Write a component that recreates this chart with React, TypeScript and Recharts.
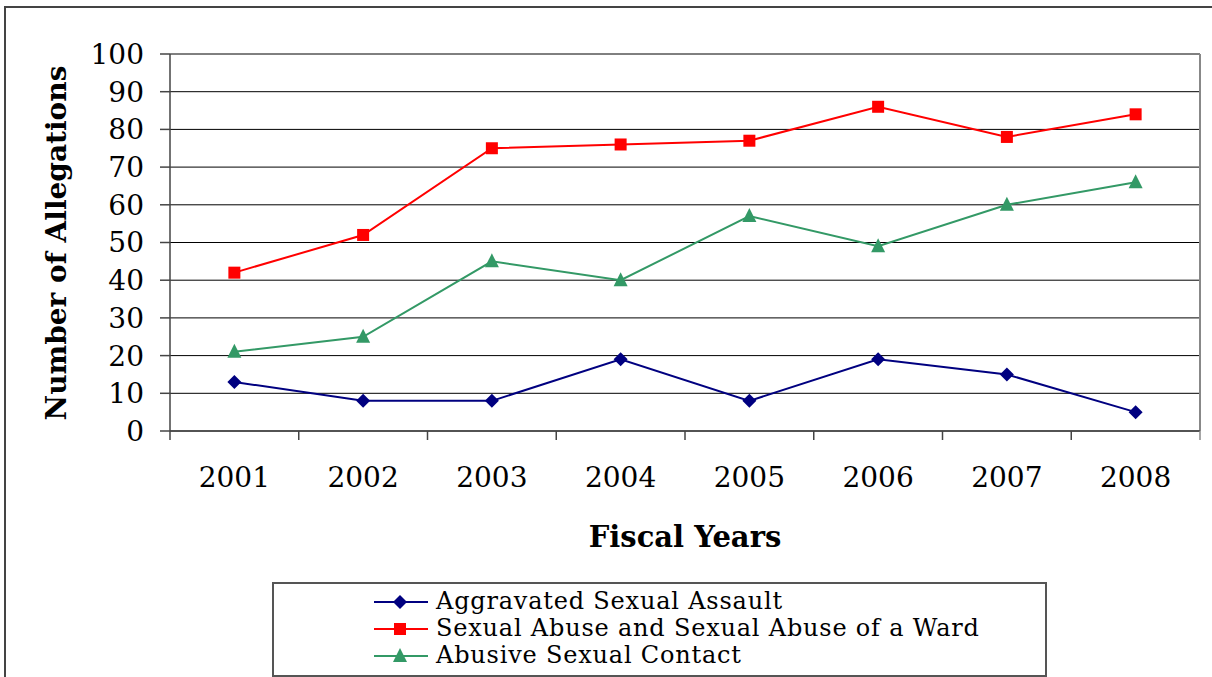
import React from "react";
import { LineChart, Line, XAxis, YAxis, CartesianGrid } from "recharts";

const years = ["2001", "2002", "2003", "2004", "2005", "2006", "2007", "2008"];
const aggravated = [13, 8, 8, 19, 8, 19, 15, 5];
const sexualAbuse = [42, 52, 75, 76, 77, 86, 78, 84];
const abusiveContact = [21, 25, 45, 40, 57, 49, 60, 66];
const yTicks = [0, 10, 20, 30, 40, 50, 60, 70, 80, 90, 100];

const seriesNames = [
  "Aggravated Sexual Assault",
  "Sexual Abuse and Sexual Abuse of a Ward",
  "Abusive Sexual Contact",
];
const seriesColors = ["#000080", "#FF0000", "#339966"];
const seriesKeys = ["aggravated", "sexualAbuse", "abusiveContact"];

const data = years.map((y, i) => ({
  year: y,
  aggravated: aggravated[i],
  sexualAbuse: sexualAbuse[i],
  abusiveContact: abusiveContact[i],
}));

const FONT = "'DejaVu Serif', serif";

function Marker({ kind, cx, cy, color }: { kind: number; cx: number; cy: number; color: string }) {
  if (kind === 0) {
    return <polygon points={`${cx},${cy - 7} ${cx + 7},${cy} ${cx},${cy + 7} ${cx - 7},${cy}`} fill={color} stroke="none" />;
  }
  if (kind === 1) {
    return <rect x={cx - 6} y={cy - 6} width={12} height={12} fill={color} stroke="none" />;
  }
  return <polygon points={`${cx},${cy - 8} ${cx + 7},${cy + 6} ${cx - 7},${cy + 6}`} fill={color} stroke="none" />;
}

const makeDot = (kind: number, color: string) => (props: any) => {
  const { cx, cy, index } = props;
  if (cx == null || cy == null) return <g key={index} />;
  return <Marker key={index} kind={kind} cx={cx} cy={cy} color={color} />;
};

const XTick = (props: any) => {
  const { x, y, payload, index, width, visibleTicksCount } = props;
  const bw = width / visibleTicksCount;
  const left = x - bw / 2;
  const right = x + bw / 2;
  return (
    <g>
      <line x1={left} y1={y} x2={left} y2={y + 9} stroke="#444" strokeWidth={1.5} />
      {index === visibleTicksCount - 1 && (
        <line x1={right} y1={y} x2={right} y2={y + 9} stroke="#888" strokeWidth={1.5} />
      )}
      <text x={x} y={y + 56} textAnchor="middle" fill="#000" fontSize={28} fontFamily={FONT}>
        {payload.value}
      </text>
    </g>
  );
};

export default function App() {
  return (
    <div
      style={{
        position: "fixed",
        left: 0,
        top: 0,
        width: 1212,
        height: 677,
        overflow: "hidden",
        background: "#fff",
        fontFamily: FONT,
      }}
    >
      <div
        style={{
          position: "absolute",
          left: 4,
          top: 6,
          width: 1240,
          height: 720,
          border: "2px solid #444",
        }}
      />
      <div style={{ position: "absolute", left: 0, top: 0 }}>
        <LineChart
          width={1212}
          height={677}
          data={data}
          margin={{ top: 54, right: 12, bottom: 186, left: 100 }}
        >
          <CartesianGrid vertical={false} stroke="#000" strokeWidth={1} />
          <CartesianGrid
            horizontal={false}
            stroke="#888"
            strokeWidth={2}
            verticalCoordinatesGenerator={(p: any) => [p.offset.left + p.offset.width]}
          />
          <XAxis
            dataKey="year"
            scale="band"
            height={60}
            tickLine={false}
            tickSize={0}
            tickMargin={0}
            axisLine={{ stroke: "#444", strokeWidth: 1.5 }}
            tick={<XTick />}
            interval={0}
          />
          <YAxis
            width={70}
            domain={[0, 100]}
            ticks={yTicks}
            interval={0}
            tickSize={10}
            tickMargin={16}
            tickLine={{ stroke: "#444", strokeWidth: 1.5 }}
            axisLine={{ stroke: "#444", strokeWidth: 1.5 }}
            tick={{ fill: "#000", fontSize: 28, fontFamily: FONT }}
          />
          {seriesKeys.map((k, i) => (
            <Line
              key={k}
              dataKey={k}
              name={seriesNames[i]}
              stroke={seriesColors[i]}
              strokeWidth={2}
              dot={makeDot(i, seriesColors[i])}
              activeDot={false}
              isAnimationActive={false}
            />
          ))}
        </LineChart>
      </div>
      <div
        style={{
          position: "absolute",
          left: 56,
          top: 243,
          transform: "translate(-50%, -50%) rotate(-90deg)",
          whiteSpace: "nowrap",
          fontWeight: "bold",
          fontSize: 28,
          fontFamily: FONT,
          color: "#000",
        }}
      >
        Number of Allegations
      </div>
      <div
        style={{
          position: "absolute",
          left: 685,
          top: 537,
          transform: "translate(-50%, -50%)",
          whiteSpace: "nowrap",
          fontWeight: "bold",
          fontSize: 29,
          fontFamily: FONT,
          color: "#000",
        }}
      >
        Fiscal Years
      </div>
      <div
        style={{
          position: "absolute",
          left: 272,
          top: 582,
          width: 771,
          height: 91,
          border: "2px solid #555",
        }}
      >
        {seriesNames.map((n, i) => (
          <div
            key={n}
            style={{
              position: "absolute",
              left: 98,
              top: 4 + i * 27,
              height: 27,
              display: "flex",
              alignItems: "center",
              whiteSpace: "nowrap",
            }}
          >
            <svg width={58} height={20} style={{ display: "block" }}>
              <line x1={2} y1={10} x2={56} y2={10} stroke={seriesColors[i]} strokeWidth={2} />
              <Marker kind={i} cx={28} cy={10} color={seriesColors[i]} />
            </svg>
            <span
              style={{
                marginLeft: 6,
                fontSize: 24,
                fontFamily: FONT,
                color: "#000",
                letterSpacing: 0.8,
                lineHeight: "27px",
              }}
            >
              {n}
            </span>
          </div>
        ))}
      </div>
    </div>
  );
}
